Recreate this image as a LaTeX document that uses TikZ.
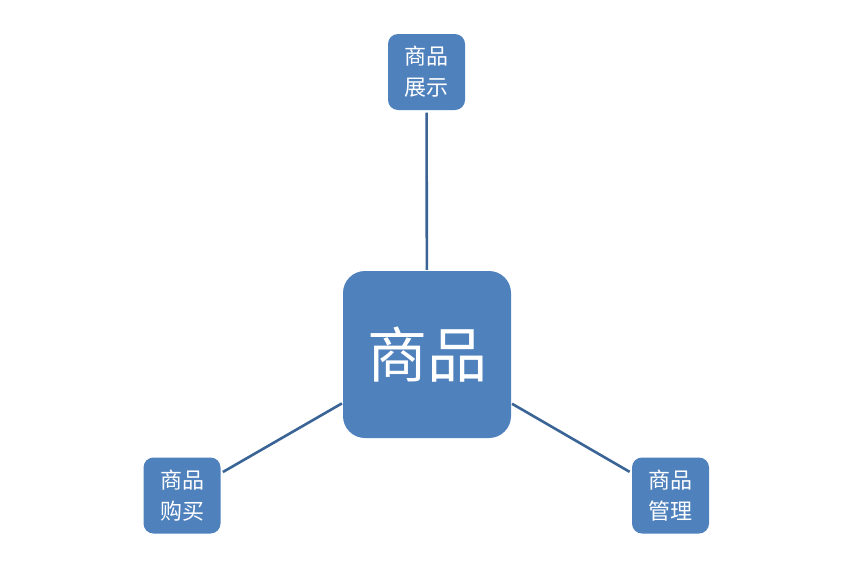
\documentclass[tikz,border=0pt]{standalone}
\usepackage{fontspec}
\newfontfamily\cjk{Noto Sans CJK SC}
\definecolor{boxblue}{HTML}{4F81BD}
\definecolor{linkblue}{HTML}{3A6496}
\tikzset{
  bigbox/.style={draw=none, fill=boxblue, rounded corners=22pt, minimum width=168pt, minimum height=167pt, inner sep=0pt, text=white, font=\cjk\fontsize{60}{62}\selectfont},
  smallbox/.style={draw=none, fill=boxblue, rounded corners=10pt, minimum width=77pt, minimum height=76pt, inner sep=0pt, text=white, align=center, font=\cjk\fontsize{22}{31}\selectfont},
  link/.style={draw=linkblue, line width=2.6pt, shorten <=1pt, shorten >=2.5pt}
}
\begin{document}
\begin{tikzpicture}[x=1pt,y=-1pt]
\useasboundingbox[fill=white] (0,0) rectangle (853,568);
\node[bigbox] (c) at (427,354.5) {商品};
\node[smallbox] (t) at (426.5,72) {商品\\展示};
\node[smallbox] (l) at (182,495.5) {商品\\购买};
\node[smallbox] (r) at (670.5,495.5) {商品\\管理};
\draw[link] (c) -- (t);
\draw[link] (c) -- (l);
\draw[link] (c) -- (r);
\end{tikzpicture}
\end{document}
